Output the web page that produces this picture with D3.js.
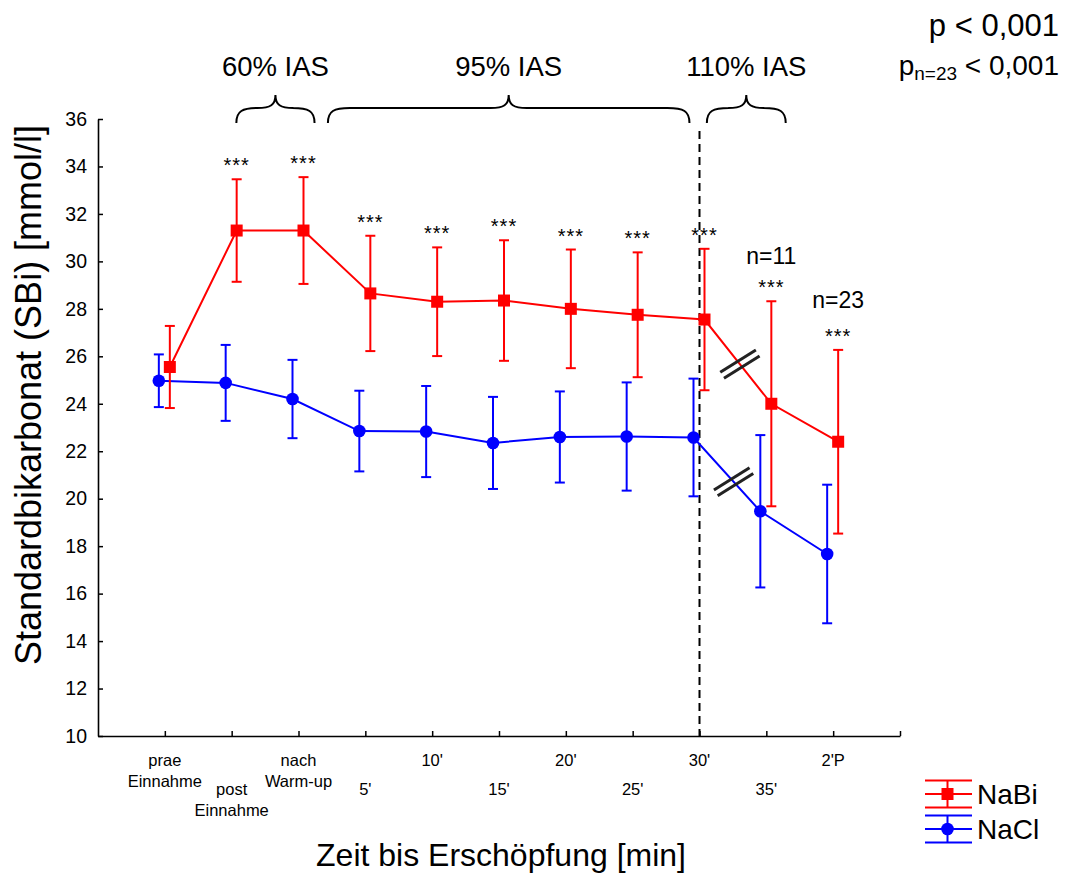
<!DOCTYPE html>
<meta charset="utf-8">
<script src="https://d3js.org/d3.v7.min.js"></script>
<style>
  body { margin: 0; background: #fff; }
  text { font-family: "Liberation Sans", Arial, sans-serif; fill: #000; }
</style>
<svg id="chart" width="1066" height="873"></svg>
<script>

// x categories, each split in the lines shown under the tick
var tickLines = [["prae", "Einnahme"], ["post", "Einnahme"], ["nach", "Warm-up"],
  ["5'"], ["10'"], ["15'"], ["20'"], ["25'"], ["30'"], ["35'"], ["2'P"]];

// NaBi (red squares): mean and SD
var nabiMean = [25.55, 31.3, 31.3, 28.65, 28.3, 28.35, 28.0, 27.75, 27.55, 24.0, 22.4];
var nabiSd   = [1.73, 2.16, 2.25, 2.43, 2.29, 2.54, 2.5, 2.63, 2.98, 4.32, 3.87];

// NaCl (blue circles): mean and SD
var naclMean = [24.97, 24.88, 24.2, 22.85, 22.83, 22.35, 22.6, 22.62, 22.58, 19.47, 17.67];
var naclSd   = [1.11, 1.6, 1.65, 1.7, 1.92, 1.94, 1.92, 2.28, 2.48, 3.21, 2.92];

// significance stars above NaBi
var stars = ["", "***", "***", "***", "***", "***", "***", "***", "***", "***", "***"];

var yTicks = d3.range(10, 37, 2);

// intensity phases (x in axis units, category i sits at i+1)
var phases = [
  {label: "60% IAS", from: 2.07, to: 3.24},
  {label: "95% IAS", from: 3.44, to: 8.85},
  {label: "110% IAS", from: 9.11, to: 10.29}
];

var svg = d3.select("#chart");

var x = d3.scaleLinear().domain([0, 12]).range([98, 900]);
var y = d3.scaleLinear().domain([10, 36]).range([736, 119]);

var red = "#ff0000", blue = "#0000ff";

// y axis
svg.append("g")
  .attr("transform", "translate(98,0)")
  .call(d3.axisLeft(y).tickValues(yTicks).tickSize(-5).tickSizeOuter(0).tickPadding(11))
  .call(function(g) {
    g.select(".domain").attr("stroke-width", 1.6);
    g.selectAll(".tick line").attr("stroke-width", 1.5);
    g.selectAll(".tick text").style("font-size", "19.5px").style("font-family", "Liberation Sans, Arial, sans-serif");
  });

// x axis
svg.append("g")
  .attr("transform", "translate(0,736)")
  .call(d3.axisBottom(x).tickValues(d3.range(1, 13)).tickSize(-5).tickSizeOuter(0).tickFormat(""))
  .call(function(g) {
    g.select(".domain").attr("stroke-width", 1.6);
    g.selectAll(".tick line").attr("stroke-width", 1.5);
  });

// x tick labels, alternating rows
tickLines.forEach(function(lines, i) {
  var base = i % 2 == 0 ? 766 : 795;
  var t = svg.append("text")
    .attr("text-anchor", "middle")
    .style("font-size", "16.5px");
  lines.forEach(function(s, k) {
    t.append("tspan").attr("x", x(i + 1)).attr("y", base + k * 21).text(s);
  });
});

// axis titles
svg.append("text")
  .attr("x", 501).attr("y", 866)
  .attr("text-anchor", "middle")
  .style("font-size", "32px")
  .text("Zeit bis Erschöpfung [min]");

svg.append("text")
  .attr("transform", "translate(41,395) rotate(-90)")
  .attr("text-anchor", "middle")
  .style("font-size", "36px")
  .text("Standardbikarbonat (SBi) [mmol/l]");

// dashed line at 30'
svg.append("line")
  .attr("x1", x(9)).attr("x2", x(9))
  .attr("y1", 131).attr("y2", 736)
  .attr("stroke", "#000").attr("stroke-width", 2)
  .attr("stroke-dasharray", "8,5");

// braces + phase labels
function bracePath(x1, x2) {
  var m = (x1 + x2) / 2, yb = 123, yf = 108, yt = 95;
  return "M" + x1 + "," + yb +
    " C" + x1 + "," + (yf + 3) + " " + (x1 + 6) + "," + yf + " " + (x1 + 22) + "," + yf +
    " L" + (m - 18) + "," + yf +
    " C" + (m - 5) + "," + yf + " " + m + "," + (yf - 3) + " " + m + "," + yt +
    " C" + m + "," + (yf - 3) + " " + (m + 5) + "," + yf + " " + (m + 18) + "," + yf +
    " L" + (x2 - 22) + "," + yf +
    " C" + (x2 - 6) + "," + yf + " " + x2 + "," + (yf + 3) + " " + x2 + "," + yb;
}
phases.forEach(function(p) {
  var x1 = x(p.from), x2 = x(p.to);
  svg.append("path")
    .attr("d", bracePath(x1, x2))
    .attr("fill", "none").attr("stroke", "#000").attr("stroke-width", 2);
  svg.append("text")
    .attr("x", (x1 + x2) / 2).attr("y", 76)
    .attr("text-anchor", "middle")
    .style("font-size", "27.5px")
    .text(p.label);
});

// a series with error bars
function drawSeries(mean, sd, color, off, marker) {
  var g = svg.append("g");
  var px = function(d, i) { return x(i + 1) + off; };
  g.append("path")
    .datum(mean)
    .attr("fill", "none").attr("stroke", color).attr("stroke-width", 2)
    .attr("d", d3.line().x(px).y(function(d) { return y(d); }));
  mean.forEach(function(m, i) {
    var cx = px(m, i), top = y(m + sd[i]), bot = y(m - sd[i]);
    g.append("line").attr("x1", cx).attr("x2", cx).attr("y1", top).attr("y2", bot)
      .attr("stroke", color).attr("stroke-width", 2);
    [top, bot].forEach(function(yy) {
      g.append("line").attr("x1", cx - 5).attr("x2", cx + 5).attr("y1", yy).attr("y2", yy)
        .attr("stroke", color).attr("stroke-width", 2);
    });
    marker(g, cx, y(m));
  });
}
function square(g, cx, cy) {
  g.append("rect").attr("x", cx - 6).attr("y", cy - 6).attr("width", 12).attr("height", 12).attr("fill", red);
}
function circle(g, cx, cy) {
  g.append("circle").attr("cx", cx).attr("cy", cy).attr("r", 6.3).attr("fill", blue);
}

drawSeries(naclMean, naclSd, blue, -6, circle);
drawSeries(nabiMean, nabiSd, red, 5, square);

// axis break marks between 30' and 35'
function breakMark(mean, off, t) {
  var x0 = x(9) + off, y0 = y(mean[8]), x1 = x(10) + off, y1 = y(mean[9]);
  var cx = x0 + t * (x1 - x0), cy = y0 + t * (y1 - y0);
  var a = -32 * Math.PI / 180, L = 21;
  var dx = Math.cos(a) * L, dy = Math.sin(a) * L;
  var nx = -Math.sin(a) * 3.5, ny = Math.cos(a) * 3.5;
  [-1, 1].forEach(function(s) {
    svg.append("line")
      .attr("x1", cx - dx + s * nx).attr("y1", cy - dy + s * ny)
      .attr("x2", cx + dx + s * nx).attr("y2", cy + dy + s * ny)
      .attr("stroke", "#222").attr("stroke-width", 3);
  });
}
breakMark(nabiMean, 5, 0.53);
breakMark(naclMean, -6, 0.6);

// stars
stars.forEach(function(s, i) {
  if (!s) return;
  svg.append("text")
    .attr("x", x(i + 1) + 5)
    .attr("y", y(nabiMean[i] + nabiSd[i]) - 7)
    .attr("text-anchor", "middle")
    .attr("letter-spacing", 1)
    .style("font-size", "20px")
    .text(s);
});

// n labels
svg.append("text").attr("x", x(10) + 5).attr("y", 264).attr("text-anchor", "middle")
  .style("font-size", "23px").text("n=11");
svg.append("text").attr("x", x(11) + 5).attr("y", 308).attr("text-anchor", "middle")
  .style("font-size", "23px").text("n=23");

// p values
svg.append("text").attr("x", 1059).attr("y", 36).attr("text-anchor", "end")
  .style("font-size", "31px").text("p < 0,001");
var p2 = svg.append("text").attr("x", 1059).attr("y", 75).attr("text-anchor", "end")
  .style("font-size", "28px");
p2.append("tspan").text("p");
p2.append("tspan").attr("dy", 5).style("font-size", "19px").text("n=23");
p2.append("tspan").attr("dy", -5).text(" < 0,001");

// legend
var legend = [{name: "NaBi", color: red, mark: square, y: 794},
              {name: "NaCl", color: blue, mark: circle, y: 829}];
legend.forEach(function(d) {
  var g = svg.append("g");
  [-13.5, 0, 13.5].forEach(function(o) {
    g.append("line").attr("x1", 925).attr("x2", 972).attr("y1", d.y + o).attr("y2", d.y + o)
      .attr("stroke", d.color).attr("stroke-width", 2);
  });
  g.append("line").attr("x1", 947.5).attr("x2", 947.5).attr("y1", d.y - 13.5).attr("y2", d.y + 13.5)
    .attr("stroke", d.color).attr("stroke-width", 2);
  d.mark(g, 947.5, d.y);
  g.append("text").attr("x", 977).attr("y", d.y + 10)
    .style("font-size", "28px").text(d.name);
});

</script>
